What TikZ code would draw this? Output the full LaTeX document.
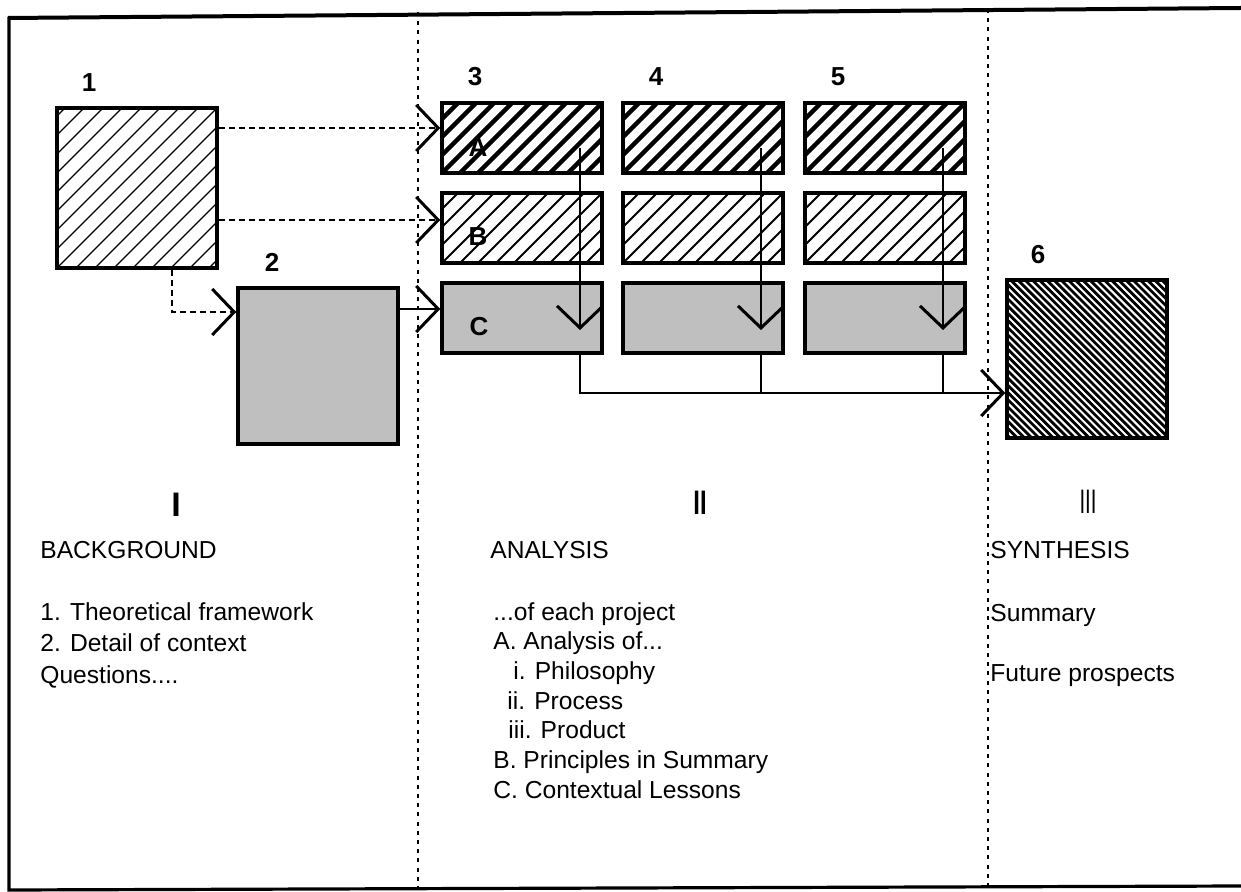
\documentclass[tikz,border=0pt]{standalone}
\usepackage{fontspec}
\setmainfont{Liberation Sans}
\usetikzlibrary{arrows.meta}

\begin{document}
\begin{tikzpicture}[x=0.5pt, y=-0.5pt,
	every node/.style={font=\fontsize{12.3}{14}\selectfont, inner sep=0pt},
	>={Straight Barb[length=11pt,width=23pt,line width=1.5pt]},
	box/.style={draw, line width=1.7pt, minimum width=80pt, minimum height=35pt},
	hatch/.style n args={2}{path picture={\foreach \i in {-24,...,24}
		\draw[line width=#1] ([xshift=\i*#2]path picture bounding box.south west) -- ++(90pt,90pt);}},
	whitehatch/.style n args={2}{fill=black, path picture={\foreach \i in {-24,...,24}
		\draw[white, line width=#1] ([xshift=\i*#2]path picture bounding box.north west) -- ++(90pt,-90pt);}},
	dotbox/.style={fill=black!25},
	numlbl/.style={font=\bfseries\fontsize{13}{15}\selectfont},
	romlbl/.style={font=\fontsize{17}{19}\selectfont},
	txt/.style={anchor=base west},
	conn/.style={line width=1.2pt},
	dashconn/.style={line width=1.2pt, dash pattern=on 3pt off 2pt},
	divider/.style={line width=1.3pt, dash pattern=on 2pt off 2.6pt}]
	\useasboundingbox (0,0) rectangle (1241,892);
	\draw[line width=2pt] (8,18) -- (1241,8);
	\draw[line width=1.6pt] (9,17) -- (9,890) -- (1241,886);
	\draw[divider] (418,12) -- (418,890);
	\draw[divider] (988,9) -- (988,888);

	\node[box, hatch={0.6pt}{9.5pt}, minimum height=80pt] (theory) at (137,188) {};
	\node[box, dotbox, minimum height=78pt] (context) at (318,366) {};
	\node[box, whitehatch={1pt}{3.6pt}, minimum height=79pt] (synth) at (1087,359) {};
	\node[numlbl] (n1) at (89,83) {1};
	\node[numlbl] (n2) at (272,262) {2};
	\node[numlbl] (n6) at (1038,255) {6};

	\foreach \k/\cx in {3/522,4/703,5/885}{
		\node[box, hatch={2.2pt}{9pt}] (a\k) at (\cx,138) {};
		\node[box, hatch={0.9pt}{9pt}] (b\k) at (\cx,228) {};
		\node[box, dotbox] (c\k) at (\cx,318) {};
		\node[numlbl] (n\k) at (\cx-47,77) {\k};
		\draw[conn,->] ([xshift=29pt,yshift=-5pt]a\k.center) -- ([xshift=29pt,yshift=-6pt]c\k.center);
		\coordinate (d\k) at ([xshift=29pt]c\k.south);
	}
	\node[numlbl] (la) at ([xshift=-22pt,yshift=-5pt]a3.center) {A};
	\node[numlbl] (lb) at ([xshift=-22pt,yshift=-4.5pt]b3.center) {B};
	\node[numlbl] (lc) at ([xshift=-21.5pt,yshift=-4.5pt]c3.center) {C};

	\coordinate (inA) at ([yshift=5pt]a3.west);
	\coordinate (inB) at ([yshift=4pt]b3.west);
	\coordinate (inC) at ([yshift=4.5pt]c3.west);
	\coordinate (in2) at ([yshift=27pt]context.west);
	\coordinate (in6) at ([yshift=-17pt]synth.west);
	\draw[dashconn,->] (theory.east |- inA) -- (inA);
	\draw[dashconn,->] (theory.east |- inB) -- (inB);
	\draw[dashconn,->] ([xshift=17.5pt]theory.south) |- (in2);
	\draw[conn,->] (context.east |- inC) -- (inC);
	\draw[conn,->] (d3) |- (in6);
	\draw[conn] (d4) -- (d4 |- in6);
	\draw[conn] (d5) -- (d5 |- in6);

	\node[romlbl] (r1) at (176,505) {\textbf{I}};
	\node[romlbl] (r2) at (700,503) {\scalebox{0.7}[1]{\bfseries II}};
	\node[romlbl] (r3) at (1088,502) {\scalebox{0.6}[1]{III}};

	\node[txt] (h1) at (40,558) {BACKGROUND};
	\node[txt] (t11) at (40,620) {1. Theoretical framework};
	\node[txt] (t12) at (40,651) {2. Detail of context};
	\node[txt] (t13) at (40,683) {Questions....};

	\node[txt] (h2) at (490,558) {ANALYSIS};
	\node[txt] (t21) at (493,620) {...of each project};
	\node[txt] (t22) at (493,649.7) {A. Analysis of...};
	\node[txt] (t23) at (513,679.4) {i. Philosophy};
	\node[txt] (t24) at (507,709.1) {ii. Process};
	\node[txt] (t25) at (508,738.8) {iii. Product};
	\node[txt] (t26) at (493,768.5) {B. Principles in Summary};
	\node[txt] (t27) at (493,798.2) {C. Contextual Lessons};

	\node[txt] (h3) at (990,558) {SYNTHESIS};
	\node[txt] (t31) at (990,621) {Summary};
	\node[txt] (t32) at (990,681) {Future prospects};
\end{tikzpicture}
\end{document}
